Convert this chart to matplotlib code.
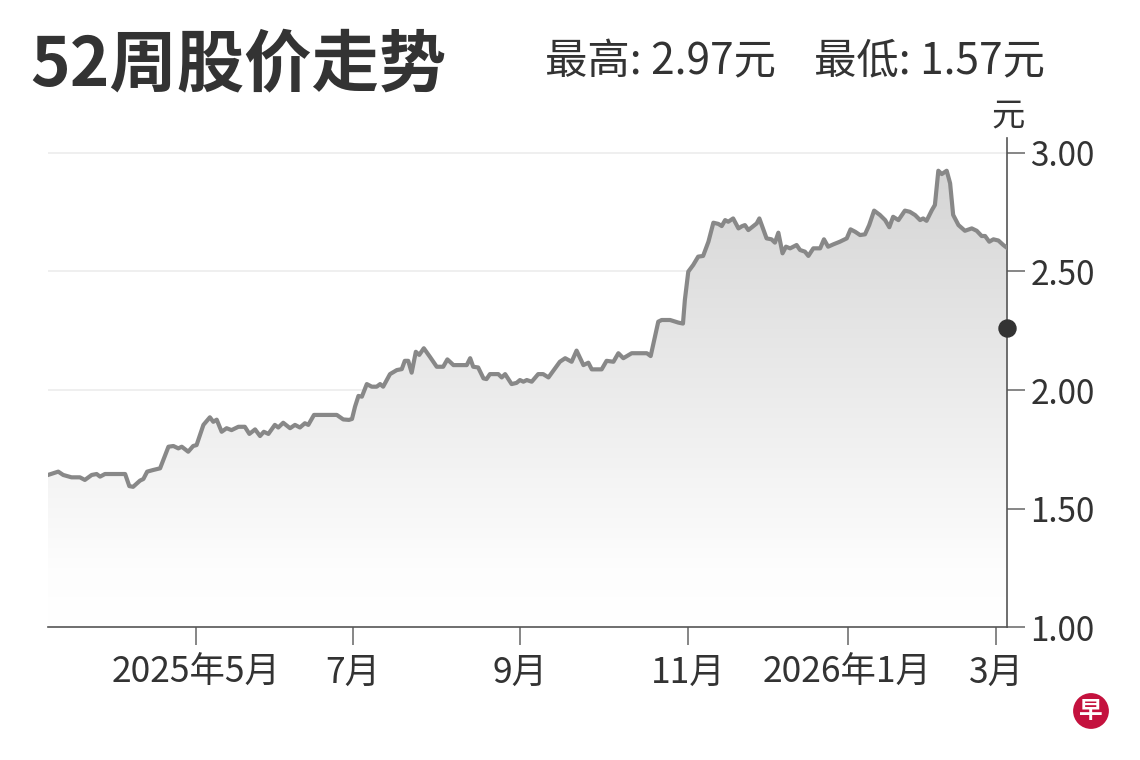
import matplotlib
matplotlib.use("Agg")
import matplotlib.pyplot as plt
import numpy as np
from matplotlib.colors import LinearSegmentedColormap
from matplotlib.patches import Polygon

plt.rcParams['font.family'] = ['Noto Sans CJK SC', 'DejaVu Sans']

# trading-day index (from start of 52-week window)
day_idx = [0, 2.7, 4.0, 6.2, 8.4, 9.7, 11.5, 12.8, 13.7, 15.0, 20.3, 21.4, 22.4, 24.2, 25.1,
           26.1, 27.7, 29.5, 31.7, 33.0, 34.3, 35.2, 36.9, 38.2, 39.1, 40.9, 42.6, 43.5, 44.4,
           45.7, 47.0, 48.3, 50.1, 51.8, 53.0, 54.5, 55.8, 56.8, 58.0, 59.7, 60.6, 61.9, 63.7,
           65.0, 66.3, 67.6, 68.5, 70.0, 76.0, 77.7, 79.2, 80.0, 80.8, 81.7, 82.6, 83.9, 85.2,
           86.5, 87.4, 88.2, 90.0, 91.8, 93.1, 93.9, 94.8, 95.7, 96.8, 97.7, 98.9, 100.5, 102.3,
           104.0, 105.1, 106.7, 110.2, 111.1, 111.9, 113.2, 114.6, 115.4, 116.3, 118.5, 119.4,
           120.3, 122.0, 123.3, 124.2, 125.1, 126.0, 127.3, 129.0, 130.3, 131.7, 134.7, 136.1,
           137.8, 139.1, 140.9, 142.2, 143.1, 145.7, 147.0, 148.8, 150.1, 151.4, 153.6, 157.6,
           158.6, 160.6, 161.5, 163.7, 165.9, 167.1, 167.6, 168.5, 169.8, 171.1, 172.4, 173.8,
           175.1, 176.4, 177.3, 178.2, 179.0, 180.3, 181.7, 182.6, 183.4, 184.3, 186.5, 187.2,
           189.1, 190.4, 191.3, 192.2, 193.3, 194.2, 195.3, 197.0, 197.9, 199.2, 200.1, 201.4,
           203.2, 204.2, 205.3, 206.7, 208.4, 210.2, 211.2, 212.4, 213.7, 215.0, 216.1, 217.4,
           218.9, 220.3, 221.4, 222.4, 223.8, 225.5, 226.8, 228.2, 229.5, 230.3, 231.2, 232.6,
           233.4, 234.3, 235.2, 236.5, 237.4, 238.2, 239.6, 241.3, 243.1, 244.4, 245.7, 246.6,
           247.7, 248.8, 250.1, 251.4, 252.3]

price = [1.642, 1.656, 1.642, 1.632, 1.632, 1.621, 1.642, 1.646, 1.635, 1.646, 1.646, 1.595, 1.592,
         1.618, 1.625, 1.656, 1.663, 1.670, 1.761, 1.764, 1.754, 1.761, 1.740, 1.764, 1.768, 1.853,
         1.885, 1.866, 1.875, 1.824, 1.839, 1.831, 1.845, 1.845, 1.815, 1.834, 1.806, 1.824, 1.815,
         1.853, 1.842, 1.862, 1.839, 1.853, 1.842, 1.860, 1.853, 1.895, 1.895, 1.876, 1.874, 1.878,
         1.930, 1.975, 1.972, 2.025, 2.014, 2.014, 2.025, 2.014, 2.067, 2.084, 2.088, 2.123, 2.123,
         2.073, 2.161, 2.148, 2.176, 2.140, 2.098, 2.098, 2.129, 2.105, 2.105, 2.134, 2.098, 2.095,
         2.049, 2.046, 2.067, 2.067, 2.053, 2.067, 2.025, 2.030, 2.042, 2.035, 2.042, 2.035, 2.067,
         2.067, 2.053, 2.119, 2.134, 2.119, 2.166, 2.105, 2.115, 2.087, 2.087, 2.123, 2.119, 2.155,
         2.134, 2.155, 2.155, 2.143, 2.288, 2.295, 2.295, 2.284, 2.280, 2.380, 2.499, 2.527, 2.562,
         2.565, 2.625, 2.705, 2.700, 2.691, 2.716, 2.709, 2.723, 2.681, 2.690, 2.695, 2.674, 2.702,
         2.723, 2.639, 2.635, 2.621, 2.663, 2.576, 2.604, 2.597, 2.611, 2.590, 2.583, 2.565, 2.597,
         2.597, 2.635, 2.604, 2.614, 2.625, 2.639, 2.677, 2.667, 2.653, 2.656, 2.695, 2.756, 2.738,
         2.716, 2.686, 2.730, 2.716, 2.756, 2.751, 2.737, 2.716, 2.723, 2.713, 2.758, 2.780, 2.924,
         2.910, 2.924, 2.871, 2.738, 2.695, 2.671, 2.681, 2.671, 2.649, 2.649, 2.625, 2.635, 2.630,
         2.611, 2.600]

tick_pos = [38.9, 80.2, 124.3, 168.5, 210.4, 249.6]
tick_labels = ['2025年5月', '7月', '9月', '11月', '2026年1月', '3月']
y_ticks = [1.00, 1.50, 2.00, 2.50, 3.00]
marker_price = 2.26
high_price = 2.97
low_price = 1.57

fig = plt.figure(figsize=(11.4, 7.6), dpi=100)
ax = fig.add_axes([0.0421, 0.1746, 0.8410, 0.6432])
x_end = day_idx[-1]
ax.set_xlim(0, x_end)
ax.set_ylim(1.0, 3.06)

# gradient fill under the line
cmap = LinearSegmentedColormap.from_list('g', [(0, '#ffffff'), (0.12, '#fdfdfd'), (1, '#d2d2d2')])
grad = np.linspace(0, 1, 256).reshape(-1, 1)
im = ax.imshow(grad, extent=[0, x_end, 1.0, 3.06], origin='lower', cmap=cmap,
               aspect='auto', vmin=0, vmax=1, zorder=1)
verts = list(zip(day_idx, price)) + [(x_end, 1.0), (0, 1.0)]
poly = Polygon(verts, closed=True, facecolor='none', edgecolor='none')
ax.add_patch(poly)
im.set_clip_path(poly)

ax.plot(day_idx, price, color='#888888', lw=3.0, solid_joinstyle='round', zorder=3)

ax.scatter([x_end], [marker_price], s=150, color='#333333', zorder=5, clip_on=False)

ax.set_yticks(y_ticks)
ax.set_yticklabels([f'{v:.2f}' for v in y_ticks])
ax.yaxis.tick_right()
ax.grid(axis='y', color='#eeeeee', lw=1.3, zorder=0)
ax.set_axisbelow(True)
ax.set_xticks(tick_pos)
ax.set_xticklabels(tick_labels)
ax.tick_params(axis='y', length=13, width=1.1, color='#666666', pad=4,
               labelsize=24, labelcolor='#333333')
ax.tick_params(axis='x', length=13, width=1.1, color='#666666', pad=7,
               labelsize=25.5, labelcolor='#333333')
for s in ['top', 'left']:
    ax.spines[s].set_visible(False)
for s in ['right', 'bottom']:
    ax.spines[s].set_color('#555555')
    ax.spines[s].set_linewidth(1.2)

fig.text(30 / 1140, 1 - 66 / 760, '52周股价走势', fontsize=48.5, fontweight='bold',
         color='#333333', ha='left', va='center')
fig.text(1045 / 1140, 1 - 62 / 760, f'最高: {high_price:.2f}元    最低: {low_price:.2f}元',
         fontsize=30.5, color='#333333', ha='right', va='center')
fig.text(1008 / 1140, 1 - 116 / 760, '元', fontsize=24, color='#333333',
         ha='center', va='center')
fig.text(1091 / 1140, 1 - 711 / 760, '早', fontsize=17, color='white', fontweight='bold',
         ha='center', va='center',
         bbox=dict(boxstyle='circle,pad=0.25', fc='#c4123e', ec='none'))

fig.savefig('out.png', dpi=100, facecolor='white')
